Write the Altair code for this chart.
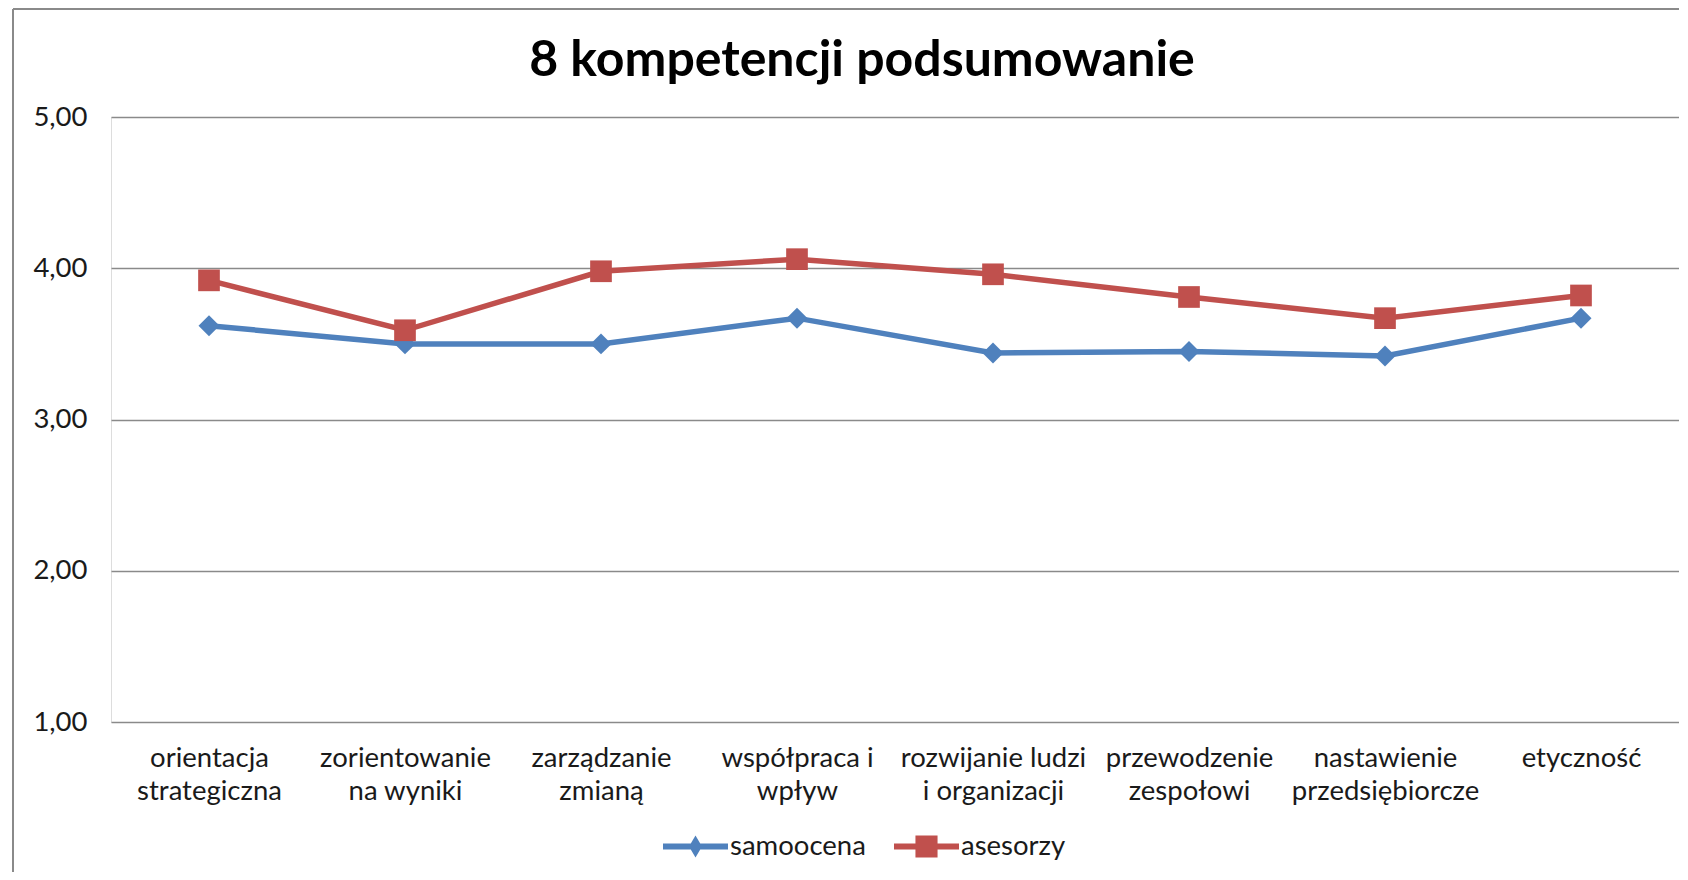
import altair as alt
import pandas as pd

categories = [
    "orientacja|strategiczna",
    "zorientowanie|na wyniki",
    "zarządzanie|zmianą",
    "współpraca i|wpływ",
    "rozwijanie ludzi|i organizacji",
    "przewodzenie|zespołowi",
    "nastawienie|przedsiębiorcze",
    "etyczność",
]
series_names = ["samoocena", "asesorzy"]
samoocena = [3.62, 3.50, 3.50, 3.67, 3.44, 3.45, 3.42, 3.67]
asesorzy = [3.92, 3.59, 3.98, 4.06, 3.96, 3.81, 3.67, 3.82]
y_ticks = [1, 2, 3, 4, 5]
colors = ["#4F81BD", "#C0504D"]
title_text = "8 kompetencji podsumowanie"

rows = []
for name, vals in zip(series_names, [samoocena, asesorzy]):
    for c, v in zip(categories, vals):
        rows.append({"kategoria": c, "seria": name, "wartosc": v})
df = pd.DataFrame(rows)

FONT = "Lato"
W, H = 1568, 605
LABEL_SIZE = 27.5

x_enc = alt.X(
    "kategoria:N",
    sort=categories,
    scale=alt.Scale(padding=0.5),
    axis=alt.Axis(
        title=None,
        labelAngle=0,
        labelExpr="split(datum.value, '|')",
        labelFont=FONT,
        labelFontSize=LABEL_SIZE,
        labelColor="#1a1a1a",
        labelLineHeight=33,
        labelPadding=22,
        labelLimit=300,
        ticks=False,
        domain=False,
        grid=False,
    ),
)
y_enc = alt.Y(
    "wartosc:Q",
    scale=alt.Scale(domain=[1, 5], nice=False, zero=False),
    axis=alt.Axis(
        title=None,
        values=y_ticks,
        labelExpr="replace(format(datum.value, '.2f'), '.', ',')",
        labelFont=FONT,
        labelFontSize=LABEL_SIZE,
        labelColor="#1a1a1a",
        labelPadding=24,
        ticks=False,
        domain=False,
        grid=True,
        gridColor="#8a8a8a",
        gridWidth=1.6,
    ),
)

color_scale = alt.Scale(domain=series_names, range=colors)

line_path_blue = "M-1,-0.09 L1,-0.09 L1,0.09 L-1,0.09 Z M0,-0.34 L0.2,0 L0,0.34 L-0.2,0 Z"
line_path_red = "M-1,-0.09 L1,-0.09 L1,0.09 L-1,0.09 Z M-0.34,-0.34 L0.34,-0.34 L0.34,0.34 L-0.34,0.34 Z"
shape_scale = alt.Scale(domain=series_names, range=[line_path_blue, line_path_red])

base = alt.Chart(df)

lines = base.mark_line(strokeWidth=5.5).encode(
    x=x_enc, y=y_enc,
    color=alt.Color("seria:N", scale=color_scale, legend=None),
    detail="seria:N",
)

pts_blue = base.transform_filter(alt.datum.seria == "samoocena").mark_point(
    filled=True, opacity=1, shape="diamond", size=440
).encode(x=x_enc, y=y_enc, color=alt.Color("seria:N", scale=color_scale, legend=None))

pts_red = base.transform_filter(alt.datum.seria == "asesorzy").mark_point(
    filled=True, opacity=1, shape="square", size=470
).encode(x=x_enc, y=y_enc, color=alt.Color("seria:N", scale=color_scale, legend=None))

legend = alt.Legend(
    title=None,
    orient="none",
    direction="horizontal",
    legendX=552,
    legendY=697,
    symbolSize=4225,
    symbolStrokeWidth=0,
    symbolOpacity=1,
    labelFont=FONT,
    labelFontSize=LABEL_SIZE,
    labelColor="#1a1a1a",
    labelOffset=2,
    columnPadding=28,
)

legend_layer = base.mark_point(filled=True, opacity=0).encode(
    x=x_enc, y=y_enc,
    color=alt.Color("seria:N", scale=color_scale, legend=legend, sort=series_names),
    shape=alt.Shape("seria:N", scale=shape_scale, legend=legend, sort=series_names),
)

frame_df = pd.DataFrame({"k": [0]})
frame_left = alt.Chart(frame_df).mark_rule(color="#8a8a8a", strokeWidth=2).encode(
    x=alt.value(-98), y=alt.value(-108), y2=alt.value(760)
)
frame_top = alt.Chart(frame_df).mark_rule(color="#8a8a8a", strokeWidth=2).encode(
    x=alt.value(-98), x2=alt.value(1570), y=alt.value(-108)
)

chart = alt.layer(frame_left, frame_top, lines, pts_blue, pts_red, legend_layer).resolve_scale(
    color="independent", shape="independent"
).properties(
    width=W,
    height=H,
    padding={"left": 103, "top": 109, "right": 0, "bottom": 150},
    autosize=alt.AutoSizeParams(type="none"),
    title=alt.TitleParams(
        text=title_text,
        font=FONT,
        fontSize=50,
        fontWeight="bold",
        color="#000000",
        anchor="middle",
        dx=-33,
        offset=-78,
    ),
).configure_view(stroke=None).configure(background="#ffffff")

chart.save("out.html", embed_options={"renderer": "svg", "actions": False})
